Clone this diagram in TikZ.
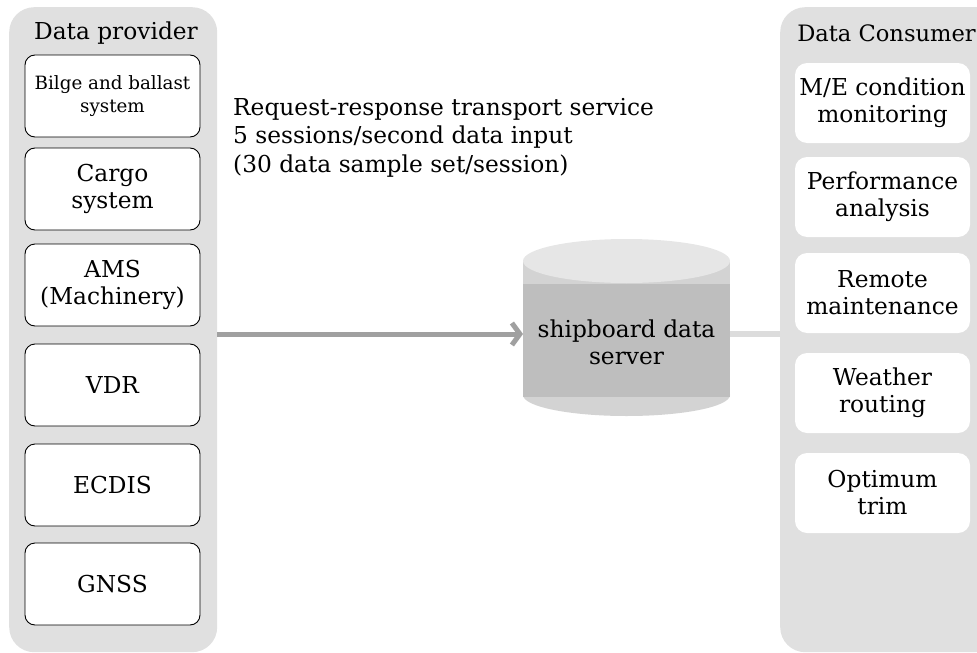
\documentclass[tikz,border=0pt]{standalone}
\usepackage{fontspec}
\setmainfont{DejaVu Serif}
\usetikzlibrary{arrows.meta}
\definecolor{panelgray}{HTML}{E0E0E0}
\definecolor{cyltop}{HTML}{E6E6E6}
\definecolor{cylside}{HTML}{D3D3D3}
\definecolor{cylband}{HTML}{BEBEBE}
\definecolor{arrowgray}{HTML}{A0A0A0}
\definecolor{linkgray}{HTML}{DCDCDC}
\begin{document}
\begin{tikzpicture}[x=1pt,y=-1pt,
  font=\fontsize{23.3}{27}\selectfont,
  panel/.style={fill=panelgray, draw=none, rounded corners=25pt, inner sep=0pt},
  srcbox/.style={draw=black, line width=0.9pt, fill=white, rounded corners=10pt,
    minimum width=175pt, minimum height=82pt, align=center, inner sep=0pt},
  dstbox/.style={fill=white, draw=none, rounded corners=12pt,
    minimum width=175pt, minimum height=80pt, align=center, inner sep=0pt},
  title/.style={inner sep=0pt},
  arrowline/.style={draw=arrowgray, line width=5pt,
    -{Straight Barb[length=8pt,width=22pt]}},
  linkline/.style={draw=linkgray, line width=6pt},
]
\useasboundingbox (0,0) rectangle (977,653);
\clip (0,0) rectangle (977,653);

% panels
\node[panel, anchor=north west, minimum width=208pt, minimum height=645pt] (prov) at (9,7) {};
\node[panel, anchor=north west, minimum width=240pt, minimum height=645pt] (cons) at (780,7) {};

% titles
\node[title] (provt) at (116,33) {Data provider};
\node[title, anchor=east, font=\fontsize{22.6}{27}\selectfont] (const) at (976,33) {Data Consumer};

% source boxes
\node[srcbox, font=\fontsize{18.3}{23}\selectfont] (b1) at (112.5,96) {Bilge and ballast\\system};
\node[srcbox] (b2) at (112.5,189) {Cargo\\system};
\node[srcbox] (b3) at (112.5,285) {AMS\\(Machinery)};
\node[srcbox] (b4) at (112.5,385) {VDR};
\node[srcbox] (b5) at (112.5,485) {ECDIS};
\node[srcbox] (b6) at (112.5,584) {GNSS};

% consumer boxes
\node[dstbox] (c1) at (882.5,103) {M/E condition\\monitoring};
\node[dstbox] (c2) at (882.5,197) {Performance\\analysis};
\node[dstbox] (c3) at (882.5,293) {Remote\\maintenance};
\node[dstbox] (c4) at (882.5,393) {Weather\\routing};
\node[dstbox] (c5) at (882.5,493) {Optimum\\trim};

% description text
\node[anchor=base west, align=left, inner sep=0pt, font=\fontsize{23.3}{28.5}\selectfont] (desc) at (233,172)
  {Request-response transport service\\5 sessions/second data input\\(30 data sample set/session)};

% cylinder (shipboard data server)
\fill[cylside] (626.5,395) ellipse [x radius=103.5, y radius=21];
\fill[cylside] (523,261) rectangle (730,395);
\fill[cylband] (523,284) rectangle (730,397);
\fill[cyltop] (626.5,261) ellipse [x radius=103.5, y radius=22];
\node[minimum width=207pt, minimum height=177pt, inner sep=0pt] (srv) at (626.5,327.5) {};
\node[align=center, inner sep=0pt] (srvt) at (626.5,342) {shipboard data\\server};

% connectors
\coordinate (ain) at (523,334);
\coordinate (aout) at (730,334);
\draw[linkline] (aout) -- (cons.west |- aout);
\draw[arrowline] (prov.east |- ain) -- (ain);
\end{tikzpicture}
\end{document}
